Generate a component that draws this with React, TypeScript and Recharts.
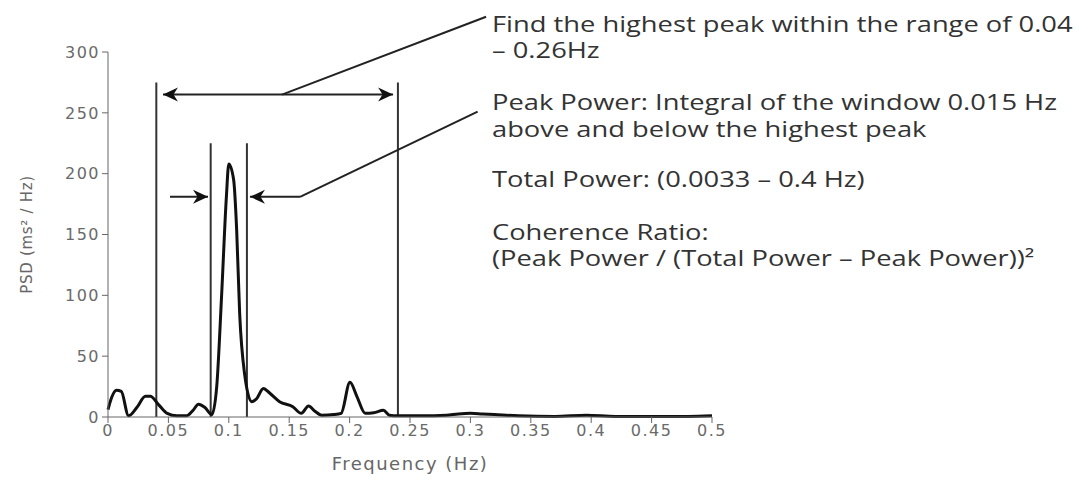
import {
  ComposedChart,
  Line,
  ReferenceLine,
  XAxis,
  YAxis,
} from "recharts";

const freqs = [
  0, 0.003, 0.007, 0.011, 0.017, 0.024, 0.031, 0.035, 0.042, 0.049, 0.057,
  0.065, 0.07, 0.075, 0.08, 0.086, 0.09, 0.094, 0.098, 0.1, 0.104, 0.1065,
  0.109, 0.113, 0.119, 0.123, 0.1286, 0.134, 0.142, 0.153, 0.16, 0.166, 0.171,
  0.177, 0.187, 0.193, 0.2003, 0.206, 0.213, 0.22, 0.228, 0.233, 0.24, 0.26,
  0.28, 0.29, 0.3, 0.31, 0.32, 0.34, 0.37, 0.396, 0.42, 0.45, 0.48, 0.5,
];
const psd = [
  6, 16, 22, 21, 1, 8, 17, 17, 10, 3, 1, 1, 5, 10.5, 8, 2, 25, 99, 181, 208,
  195, 154, 85, 36, 12.6, 15, 23.5, 19.5, 12.6, 8.5, 3, 9, 5, 1.5, 2, 3, 28.5,
  17, 3, 3.5, 5.5, 1.5, 1, 1, 1.5, 2.5, 3, 2.5, 2, 1, 0.5, 1.5, 0.5, 0.5, 0.5,
  1,
];

const xTicks = [0, 0.05, 0.1, 0.15, 0.2, 0.25, 0.3, 0.35, 0.4, 0.45, 0.5];
const yTicks = [0, 50, 100, 150, 200, 250, 300];

// range markers: [freq, top]
const rangeLines = [
  [0.04, 275],
  [0.24, 275],
  [0.085, 225],
  [0.115, 225],
];

// text block on the right, top = baseline - 18.6
const notes = [
  { top: 14, text: "Find the highest peak within the range of 0.04" },
  { top: 40, text: "– 0.26Hz" },
  { top: 92, text: "Peak Power: Integral of the window 0.015 Hz" },
  { top: 118.5, text: "above and below the highest peak" },
  { top: 169, text: "Total Power: (0.0033 – 0.4 Hz)" },
  { top: 222, text: "Coherence Ratio:" },
  { top: 247.5, text: "(Peak Power / (Total Power – Peak Power))²" },
];

const data = freqs.map((f, i) => ({ f, v: psd[i] }));

const head = (tx: number, ty: number, fx: number, fy: number) => {
  const dx = tx - fx;
  const dy = ty - fy;
  const len = Math.hypot(dx, dy) || 1;
  const ux = dx / len;
  const uy = dy / len;
  const L = 15;
  const W = 7;
  const bx = tx - ux * L;
  const by = ty - uy * L;
  const nx = tx - ux * L * 0.7;
  const ny = ty - uy * L * 0.7;
  return `${tx},${ty} ${bx - uy * W},${by + ux * W} ${nx},${ny} ${bx + uy * W},${by - ux * W}`;
};

const arrow =
  (start: boolean, end: boolean) =>
  (p: any) => {
    const { x1, y1, x2, y2 } = p;
    return (
      <g>
        <line x1={x1} y1={y1} x2={x2} y2={y2} stroke="#222" strokeWidth={2} />
        {start && <polygon points={head(x1, y1, x2, y2)} fill="#111" />}
        {end && <polygon points={head(x2, y2, x1, y1)} fill="#111" />}
      </g>
    );
  };

const tickStyle = {
  fill: "#6a6a6a",
  fontSize: 16,
  fontFamily: "DejaVu Sans",
  letterSpacing: 1.5,
};

export default function App() {
  return (
    <div
      style={{
        position: "fixed",
        left: 0,
        top: 0,
        width: 1076,
        height: 479,
        background: "#fff",
      }}
    >
      <ComposedChart
        width={1076}
        height={479}
        data={data}
        margin={{ top: 52, right: 364, left: 10, bottom: 7 }}
      >
        <XAxis
          dataKey="f"
          type="number"
          domain={[0, 0.5]}
          ticks={xTicks}
          tick={tickStyle}
          tickSize={6}
          axisLine={{ stroke: "#666" }}
          tickLine={{ stroke: "#666" }}
          height={55}
          label={{
            value: "Frequency (Hz)",
            position: "insideBottom",
            offset: 2,
            fill: "#666",
            fontSize: 18,
            fontFamily: "DejaVu Sans",
            letterSpacing: 1.5,
          }}
        />
        <YAxis
          type="number"
          domain={[0, 300]}
          ticks={yTicks}
          tick={tickStyle}
          tickSize={6}
          width={98}
          axisLine={{ stroke: "#666" }}
          tickLine={{ stroke: "#666" }}
          label={{
            value: "PSD  (ms² / Hz)",
            angle: -90,
            position: "insideLeft",
            offset: 17,
            fill: "#666",
            fontSize: 15,
            fontFamily: "DejaVu Sans",
            letterSpacing: 0.7,
            style: { textAnchor: "middle" },
          }}
        />
        {rangeLines.map(([f, top]) => (
          <ReferenceLine
            key={f}
            segment={[
              { x: f, y: 0 },
              { x: f, y: top },
            ]}
            stroke="#333"
            strokeWidth={2}
          />
        ))}
        <ReferenceLine
          segment={[
            { x: 0.0455, y: 265 },
            { x: 0.236, y: 265 },
          ]}
          shape={arrow(true, true)}
        />
        <ReferenceLine
          segment={[
            { x: 0.144, y: 265 },
            { x: 0.313, y: 329 },
          ]}
          ifOverflow="visible"
          shape={arrow(false, false)}
        />
        <ReferenceLine
          segment={[
            { x: 0.0513, y: 181 },
            { x: 0.0828, y: 181 },
          ]}
          shape={arrow(false, true)}
        />
        <ReferenceLine
          segment={[
            { x: 0.1175, y: 181 },
            { x: 0.159, y: 181 },
          ]}
          shape={arrow(true, false)}
        />
        <ReferenceLine
          segment={[
            { x: 0.159, y: 181 },
            { x: 0.306, y: 251 },
          ]}
          shape={arrow(false, false)}
        />
        <Line
          dataKey="v"
          type="monotone"
          stroke="#111"
          strokeWidth={3}
          dot={false}
          isAnimationActive={false}
        />
      </ComposedChart>
      {notes.map((n) => (
        <div
          key={n.top}
          style={{
            position: "absolute",
            left: 492,
            top: n.top,
            fontFamily: "Open Sans",
            fontSize: 21,
            lineHeight: "21px",
            color: "#333",
            whiteSpace: "nowrap",
            transform: "scaleX(1.3)",
            transformOrigin: "0 0",
          }}
        >
          {n.text}
        </div>
      ))}
    </div>
  );
}
